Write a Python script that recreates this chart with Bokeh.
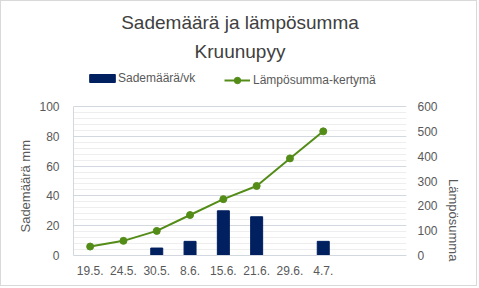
import math
from bokeh.plotting import figure
from bokeh.models import (FactorRange, Range1d, LinearAxis, FixedTicker,
                          Legend, LegendItem, Title)
from bokeh.embed import file_html
from bokeh.resources import INLINE

categories = ["19.5.", "24.5.", "30.5.", "8.6.", "15.6.", "21.6.", "29.6.", "4.7.", " ", "  "]
rain_cats = ["30.5.", "8.6.", "15.6.", "21.6.", "4.7."]
rain_mm = [5, 9.5, 30, 26, 9.5]
heat_cats = ["19.5.", "24.5.", "30.5.", "8.6.", "15.6.", "21.6.", "29.6.", "4.7."]
heat_sum = [36, 59, 99, 163, 227, 280, 391, 500]
left_ticks = [0, 20, 40, 60, 80, 100]
left_minor = list(range(0, 101, 4))
right_ticks = [0, 100, 200, 300, 400, 500, 600]

FONT = "Liberation Sans"
TXT = "#595959"
BAR = "#002060"
GREEN = "#548c18"
MAJOR = "#d3d8e0"
MINOR = "#eeeeee"
PAD_L = "\u00a0" * 14  # keeps the axis titles centred on the value area
PAD_R = "\u00a0" * 5

W, H = 477, 286
TOP, BOTTOM = 65, 32
frame_h = H - TOP - BOTTOM
data_h = 149  # height of the value area; the rest of the frame holds the legend
k = frame_h / data_h

p = figure(width=W, height=H, x_range=FactorRange(factors=categories),
           y_range=Range1d(0, left_ticks[-1] * k), output_backend="svg",
           toolbar_location=None, title=None, min_border_left=72,
           min_border_right=72, min_border_top=TOP, min_border_bottom=BOTTOM)
p.styles = {"border": "1px solid #d9d9d9"}
p.outline_line_color = None
p.background_fill_color = "white"
p.border_fill_color = "white"
p.extra_y_ranges = {"heat": Range1d(0, right_ticks[-1] * k)}

bars = p.vbar(x=rain_cats, top=rain_mm, width=0.36, color=BAR)
line = p.line(x=heat_cats, y=heat_sum, y_range_name="heat", line_color=GREEN, line_width=2)
dots = p.scatter(x=heat_cats, y=heat_sum, y_range_name="heat", size=7, color=GREEN)

ya = p.yaxis[0]
ya.ticker = FixedTicker(ticks=left_ticks, minor_ticks=left_minor)
ya.axis_label = "Sademäärä mm" + PAD_L
ya.axis_line_color = MAJOR
ya.bounds = (left_ticks[0], left_ticks[-1])

ra = LinearAxis(y_range_name="heat", ticker=FixedTicker(ticks=right_ticks),
                axis_label=PAD_R + "Lämpösumma", bounds=(right_ticks[0], right_ticks[-1]))
p.add_layout(ra, "right")
ra.axis_line_color = None
ra.axis_label_orientation = -math.pi / 2

for ax in [ya, ra, p.xaxis[0]]:
    ax.major_tick_line_color = None
    ax.minor_tick_line_color = None
    ax.major_tick_out = 0
    ax.major_tick_in = 0
    ax.minor_tick_out = 0
    ax.minor_tick_in = 0
    ax.major_label_text_font = FONT
    ax.major_label_text_font_size = "12px"
    ax.major_label_text_color = TXT
    ax.axis_label_text_font = FONT
    ax.axis_label_text_font_size = "13px"
    ax.axis_label_text_font_style = "normal"
    ax.axis_label_text_color = TXT

ya.major_label_standoff = 14
ya.axis_label_standoff = 3
ra.major_label_standoff = 11
ra.axis_label_standoff = 13
xa = p.xaxis[0]
xa.axis_line_color = MAJOR
xa.major_label_standoff = 8

p.xgrid.grid_line_color = None
p.ygrid.grid_line_color = MAJOR
p.ygrid.minor_grid_line_color = MINOR

common = dict(orientation="horizontal", border_line_color=None, background_fill_alpha=0,
              padding=0, margin=0, label_text_font=FONT, label_text_font_size="12px",
              label_text_color=TXT)
leg_bar = Legend(items=[LegendItem(label="Sademäärä/vk", renderers=[bars])],
                 location=(13, 170), glyph_width=32, glyph_height=10, label_height=10,
                 label_standoff=0, **common)
leg_line = Legend(items=[LegendItem(label="Lämpösumma-kertymä", renderers=[line, dots])],
                  location=(151, 167), glyph_width=26, glyph_height=16, label_height=16,
                  label_standoff=3, **common)
p.add_layout(leg_bar, "center")
p.add_layout(leg_line, "center")

t2 = Title(text="Kruunupyy", align="center", text_font=FONT, text_font_size="19px",
           text_font_style="normal", text_color="#404040", standoff=10)
t1 = Title(text="Sademäärä ja lämpösumma", align="center", text_font=FONT,
           text_font_size="19px", text_font_style="normal", text_color="#404040", standoff=2)
p.add_layout(t2, "above")
p.add_layout(t1, "above")

open("out.html", "w").write(file_html(p, INLINE))
